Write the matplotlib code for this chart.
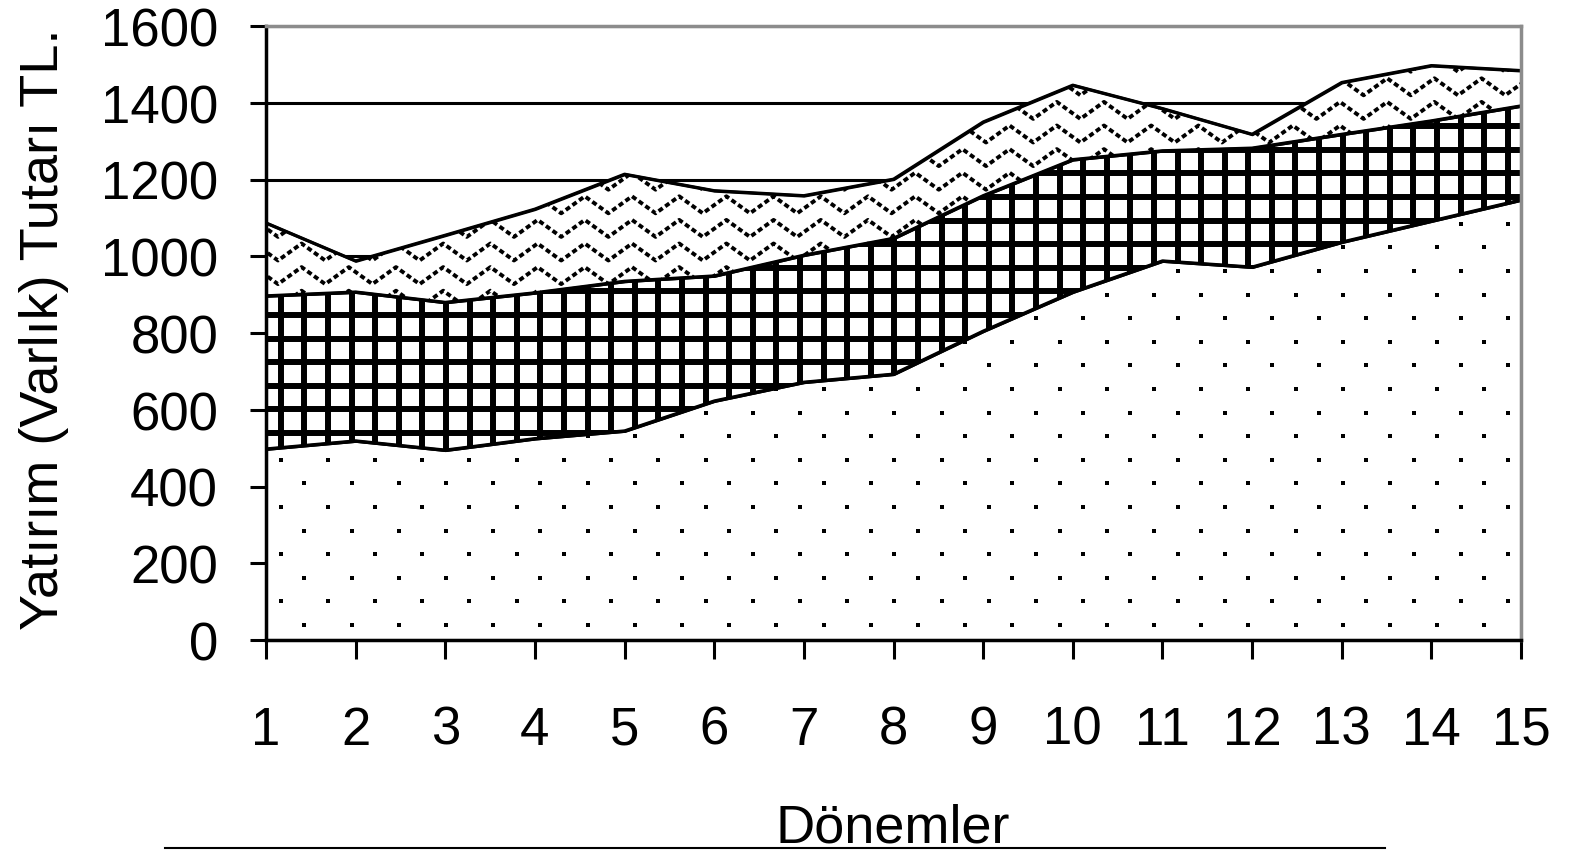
import numpy as np
import matplotlib
matplotlib.use("Agg")
import matplotlib.pyplot as plt
from matplotlib.collections import LineCollection
from matplotlib.lines import Line2D
from matplotlib.transforms import IdentityTransform

plt.rcParams['font.family'] = ['Liberation Sans', 'DejaVu Sans']

# data (stacked layers, bottom to top)
donemler = np.arange(1, 16)
alt_katman = [498, 519, 495, 525, 545, 623, 672, 693, 805, 907, 988, 972, 1037, 1092, 1147]
orta_katman = [399, 388, 385, 380, 390, 326, 331, 354, 353, 345, 287, 310, 281, 261, 245]
ust_katman = [190, 81, 175, 218, 279, 222, 155, 154, 192, 194, 110, 36, 135, 144, 92]
y_ticks = [0, 200, 400, 600, 800, 1000, 1200, 1400, 1600]

W, H, DPI = 1571, 853, 100
fig = plt.figure(figsize=(W / DPI, H / DPI), dpi=DPI)
ax = fig.add_axes([266 / W, (H - 641) / H, 1255 / W, 614 / H])

ax.set_xlim(1, 15)
ax.set_ylim(0, 1600)
ax.set_xticks(donemler)
ax.set_yticks(y_ticks)

# horizontal grid behind the areas
ax.set_axisbelow(True)
ax.yaxis.grid(True, color='black', linewidth=2.2)

polys = ax.stackplot(donemler, alt_katman, orta_katman, ust_katman,
                     colors=['white'] * 3, edgecolor='black', linewidth=2.2)

# textures drawn in pixel space and clipped to each area
bb = ax.get_window_extent()
s = 23.6
idt = IdentityTransform()


def clip_to(artist, poly):
    artist.set_clip_path(poly.get_paths()[0], ax.transData)


# dots (bottom layer)
dx, dy = [], []
k = 0
y = bb.y0 + 15
while y < bb.y1:
    x = bb.x0 + 14.7 + ((k + 1) % 2) * s
    while x < bb.x1:
        dx.append(x)
        dy.append(y)
        x += 2 * s
    y += s
    k += 1
dots, = ax.plot(dx, dy, ls='none', marker='s', ms=3.5, mew=0, color='black',
                transform=idt, zorder=1.5)
clip_to(dots, polys[0])

# grid (middle layer)
segs = []
x = bb.x0 + 14.7
while x < bb.x1:
    segs.append([(x, bb.y0), (x, bb.y1)])
    x += s
y = bb.y0 + 18.2
while y < bb.y1:
    segs.append([(bb.x0, y), (bb.x1, y)])
    y += s
izgara = LineCollection(segs, colors='black', linewidths=4.3, transform=idt, zorder=1.5)
ax.add_collection(izgara)
clip_to(izgara, polys[1])

# zigzag waves (top layer)
wsegs = []
y = bb.y0 + 10.4
while y < bb.y1:
    xs = bb.x0 + 12 + np.arange(-1, 60) * s
    ys = np.where(np.arange(-1, 60) % 2 == 0, y - 8.5, y + 8.5)
    wsegs.append(np.column_stack([xs, ys]))
    y += s
dalga = LineCollection(wsegs, colors='black', linewidths=2.8, linestyles=(0, (1.3, 0.8)),
                       transform=idt, zorder=1.5)
ax.add_collection(dalga)
clip_to(dalga, polys[2])

# redraw area outlines on top of textures
bottom = np.zeros(len(donemler))
for layer in [alt_katman, orta_katman, ust_katman]:
    bottom = bottom + np.array(layer)
    ax.plot(donemler, bottom, color='black', lw=2.2, zorder=2)

# spines
for side in ['left', 'bottom']:
    ax.spines[side].set_linewidth(2.5)
    ax.spines[side].set_color('black')
for side in ['top', 'right']:
    ax.spines[side].set_linewidth(2.5)
    ax.spines[side].set_color('#8c8c8c')

ax.tick_params(axis='y', direction='out', length=11.5, width=2.2, pad=23, labelsize=38)
ax.tick_params(axis='x', direction='out', length=13.5, width=2.2, pad=33, labelsize=38)

fig.text(58 / W, 1 - 329 / H, 'Yatırım (Varlık) Tutarı TL.', rotation=90,
         rotation_mode='anchor', ha='center', va='baseline', fontsize=39)
fig.text(893 / W, 1 - 843 / H, 'Dönemler', ha='center', va='baseline', fontsize=39)

fig.add_artist(Line2D([165 / W, 1385 / W], [1 - 849 / H] * 2, color='black', lw=1.5))

fig.savefig('out.png', dpi=DPI)
